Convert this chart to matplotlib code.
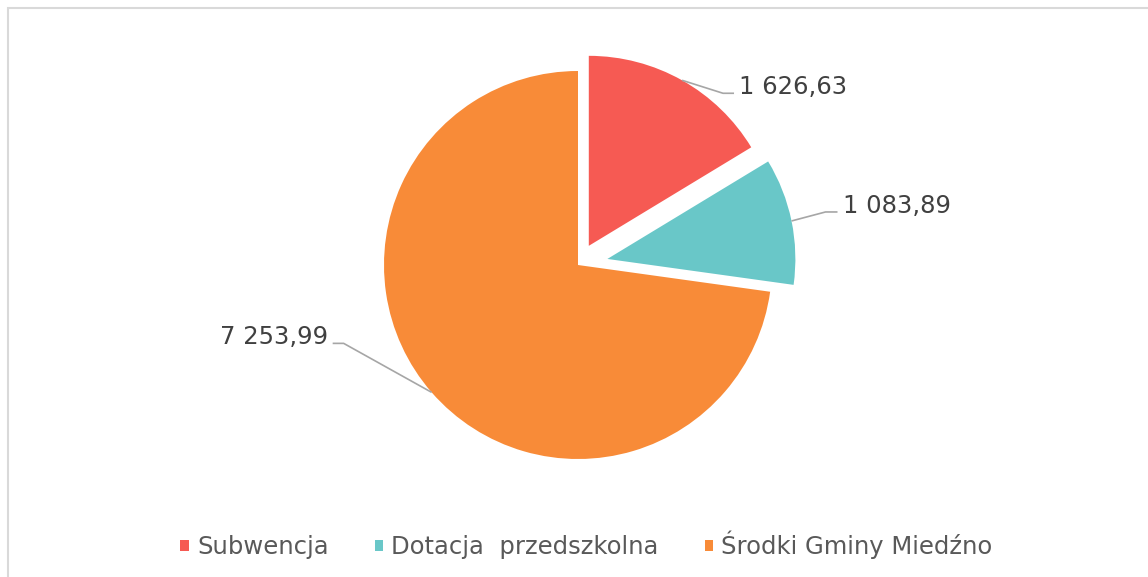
import matplotlib
matplotlib.use('Agg')
import matplotlib.pyplot as plt
from matplotlib.patches import Patch, Rectangle
import numpy as np

plt.rc('font', family='DejaVu Sans')

W, H = 1148, 577

CATEGORIES = ['Subwencja', 'Dotacja  przedszkolna', 'Środki Gminy Miedźno']
VALUES = [1626.63, 1083.89, 7253.99]
COLORS = ['#F65A53', '#69C7C8', '#F88B38']


def pl_format(v):
    """1234.5 -> '1 234,50'"""
    return '{:,.2f}'.format(v).replace(',', ' ').replace('.', ',')


# -------------------------------------------------------------

if __name__ == '__main__':

    fig = plt.figure(figsize=(W / 100, H / 100), dpi=100)
    ax = fig.add_axes([0, 0, 1, 1])

    wedges, _ = ax.pie(VALUES, colors=COLORS, startangle=90, counterclock=False,
                       radius=194, center=(578, 312), explode=[22, 30, 0],
                       wedgeprops=dict(linewidth=0))
    # exploded slices come out a touch smaller in the original
    for w, r in zip(wedges, [190, 188, 194]):
        w.set_radius(r)

    ax.set_xlim(0, W)
    ax.set_ylim(0, H)
    ax.set_aspect('equal')
    ax.axis('off')

    # leader lines + value labels (elbow offsets in px, y up)
    elbows = [(41, -13), (34, 9), (-88, 49)]
    tails = [11, 12, -11]
    for w, val, (ex, ey), tail in zip(wedges, VALUES, elbows, tails):
        tm = np.deg2rad(0.5 * (w.theta1 + w.theta2))
        cx, cy = w.center
        x0 = cx + w.r * np.cos(tm)
        y0 = cy + w.r * np.sin(tm)
        x1, y1 = x0 + ex, y0 + ey
        x2 = x1 + tail
        ax.plot([x0, x1, x2], [y0, y1, y1], color='#A6A6A6', lw=1.2,
                solid_capstyle='butt')
        ha = 'left' if tail > 0 else 'right'
        xt = x2 + 5 if tail > 0 else x2 - 5
        ax.text(xt, y1 - 1, pl_format(val), ha=ha, va='baseline',
                fontsize=17.5, color='#404040')

    # chart area border (only top / left visible)
    ax.add_patch(Rectangle((8, -20), 1200, 589.5, fill=False,
                           edgecolor='#D9D9D9', lw=1.5, clip_on=False))

    handles = [Patch(facecolor=c, edgecolor='none') for c in COLORS]
    fig.legend(handles, CATEGORIES, loc='center',
               bbox_to_anchor=(586.5 / W, 1 - 545 / H), ncol=3, frameon=False,
               fontsize=17.5, handlelength=0.35, handleheight=0.35,
               handletextpad=0.33, columnspacing=1.9, labelcolor='#595959',
               borderpad=0, borderaxespad=0)

    fig.savefig('out.png', dpi=100)
